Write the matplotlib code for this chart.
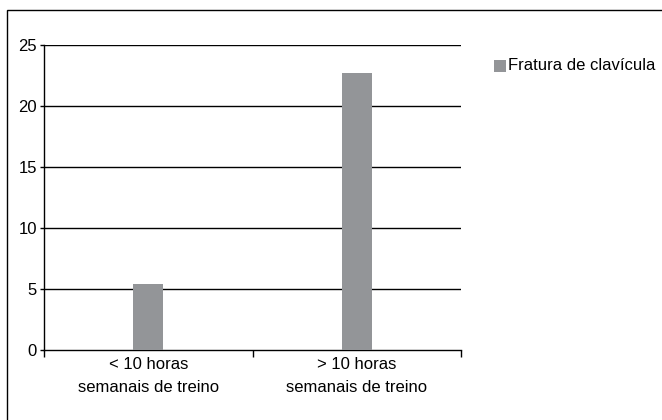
import matplotlib
matplotlib.use('Agg')
import matplotlib.pyplot as plt
from matplotlib.patches import Rectangle

# dados
categorias = ['< 10 horas\nsemanais de treino', '> 10 horas\nsemanais de treino']
fratura_clavicula = [5.4, 22.7]
serie_nome = 'Fratura de clavícula'
yticks = [0, 5, 10, 15, 20, 25]

cor_barra = '#939598'
plt.rcParams['font.family'] = ['Liberation Sans', 'DejaVu Sans']

fig = plt.figure(figsize=(6.62, 4.2), dpi=100)

# moldura externa
fig.patches.append(Rectangle((7 / 662, -0.05), 1.0, 1 - 10 / 420 + 0.05,
                             transform=fig.transFigure, fill=False,
                             edgecolor='black', linewidth=1.0))

ax = fig.add_axes([44 / 662, 1 - 350 / 420, (461 - 44) / 662, (350 - 45) / 420])

x = [0.5, 1.5]
ax.bar(x, fratura_clavicula, width=0.144, color=cor_barra, zorder=3, label=serie_nome)

ax.set_xlim(0, 2)
ax.set_ylim(0, 25)
ax.set_yticks(yticks)
ax.set_yticklabels([str(v) for v in yticks], fontsize=12)
for v in yticks[1:]:
    ax.axhline(v, color='black', linewidth=1.0, zorder=1)

ax.set_xticks([0, 1, 2])
ax.set_xticklabels([])
ax.tick_params(axis='x', direction='out', length=5, width=1.0)
ax.tick_params(axis='y', direction='out', length=3, width=1.0, pad=2)
for xi, lab in zip(x, categorias):
    ax.text(xi, -0.55, lab, ha='center', va='top', fontsize=12, linespacing=1.7)

for s in ['top', 'right']:
    ax.spines[s].set_visible(False)
ax.spines['left'].set_linewidth(1.0)
ax.spines['bottom'].set_linewidth(1.0)

# legenda
fig.patches.append(Rectangle((494 / 662, 1 - 72 / 420), 12 / 662, 12 / 420,
                             transform=fig.transFigure, facecolor=cor_barra,
                             edgecolor='none'))
fig.text(508 / 662, 1 - 66 / 420, serie_nome, ha='left', va='center', fontsize=12)

fig.savefig('out.png', dpi=100)
